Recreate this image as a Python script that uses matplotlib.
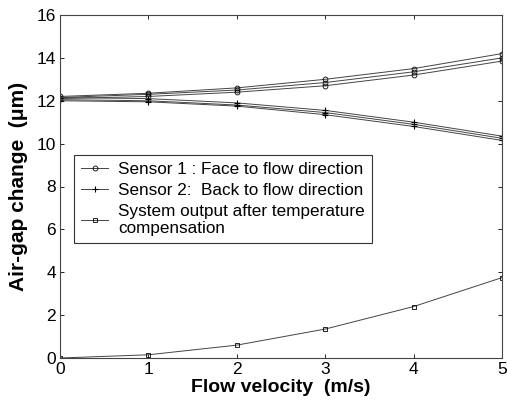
import matplotlib
matplotlib.use("Agg")
import matplotlib.pyplot as plt
import numpy as np

velocity = [0, 1, 2, 3, 4, 5]

sensor1_run_a = [12.20, 12.35, 12.60, 13.00, 13.50, 14.20]
sensor1_run_b = [12.15, 12.30, 12.50, 12.85, 13.35, 14.00]
sensor1_run_c = [12.10, 12.20, 12.40, 12.70, 13.20, 13.85]

sensor2_run_a = [12.15, 12.10, 11.90, 11.55, 11.00, 10.35]
sensor2_run_b = [12.05, 12.00, 11.80, 11.45, 10.90, 10.25]
sensor2_run_c = [12.00, 11.95, 11.75, 11.35, 10.80, 10.15]

system_output = [0.00, 0.15, 0.60, 1.35, 2.40, 3.75]

labels = ["Sensor 1 : Face to flow direction",
          "Sensor 2:  Back to flow direction",
          "System output after temperature\ncompensation"]

plt.rcParams['font.family'] = ['Liberation Sans', 'DejaVu Sans']

fig = plt.figure(figsize=(5.07, 4.09), dpi=100)
ax = fig.add_axes([60/507, 1-358/409, (502-60)/507, (358-15)/409])

lc = '#444444'
for i, run in enumerate([sensor1_run_a, sensor1_run_b, sensor1_run_c]):
    ax.plot(velocity, run, color=lc, lw=0.7, marker='o', ms=3.5, mfc='none',
            mec='black', mew=0.6, label=labels[0] if i == 0 else None)
for i, run in enumerate([sensor2_run_a, sensor2_run_b, sensor2_run_c]):
    ax.plot(velocity, run, color=lc, lw=0.7, marker='+', ms=4.5,
            mec='black', mew=0.8, label=labels[1] if i == 0 else None)
ax.plot(velocity, system_output, color=lc, lw=0.7, marker='s', ms=3.5, mfc='none',
        mec='black', mew=0.6, label=labels[2])

ax.set_xlim(0, 5)
ax.set_ylim(0, 16)
ax.set_xticks(range(0, 6))
ax.set_yticks(range(0, 17, 2))
ax.tick_params(direction='in', length=3, labelsize=12.5, top=True, right=True,
               width=0.6, pad=3)
for s in ax.spines.values():
    s.set_linewidth(0.8)
    s.set_color('#444444')

ax.set_xlabel('Flow velocity  (m/s)', fontsize=14, fontweight='bold', labelpad=1)
ax.set_ylabel('Air-gap change  (\u03bcm)', fontsize=15, fontweight='bold', labelpad=6)

leg = ax.legend(loc='upper left', bbox_to_anchor=(14/442, (358-155)/343),
                fontsize=12.3, frameon=True, fancybox=False, edgecolor='black',
                handlelength=1.6, borderpad=0.4, labelspacing=0.35,
                handletextpad=0.6, borderaxespad=0)
leg.get_frame().set_linewidth(0.8)

fig.savefig('out.png', dpi=100)
